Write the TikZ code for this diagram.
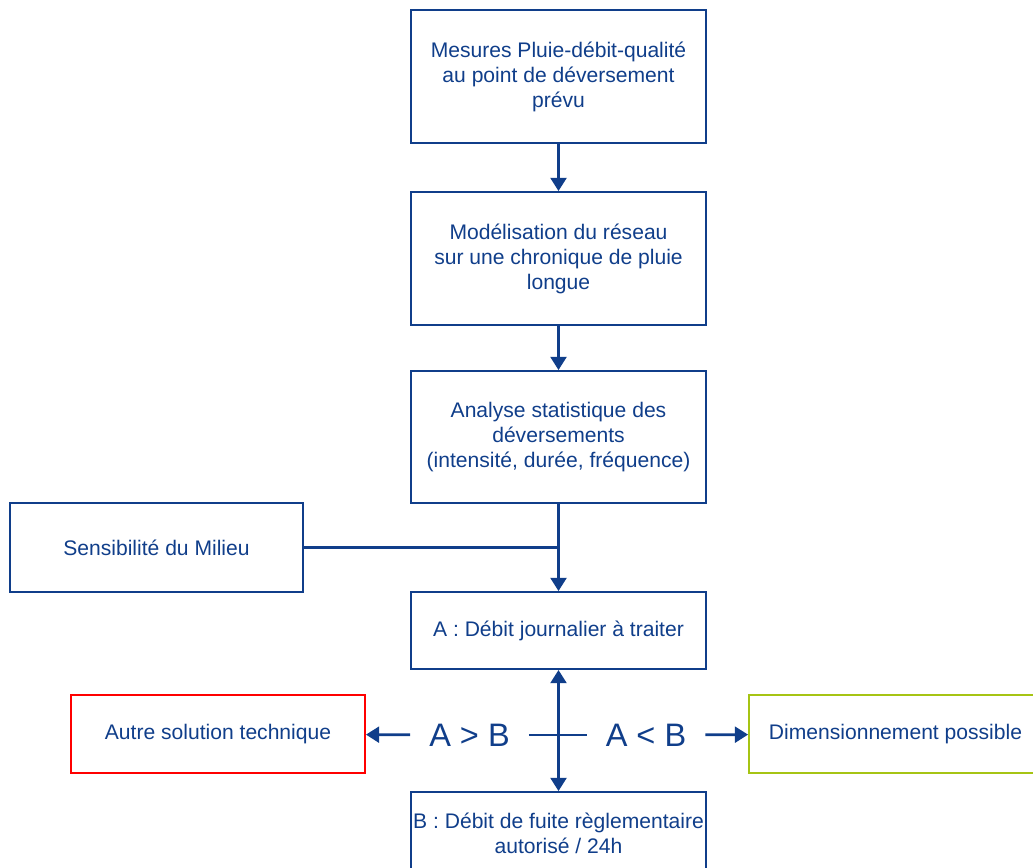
\documentclass[tikz,border=0pt]{standalone}
\usepackage{fontspec}
\setmainfont{Liberation Sans}
\usetikzlibrary{arrows.meta}
\definecolor{flowblue}{RGB}{16,62,138}
\definecolor{flowred}{RGB}{255,0,0}
\definecolor{flowgreen}{RGB}{166,196,20}
\tikzset{
  stepbox/.style={draw=flowblue, line width=1.1pt, minimum width=5.9cm,
    align=center, text=flowblue, font=\fontsize{12}{14.2}\selectfont},
  cmp/.style={text=flowblue, inner sep=0pt, minimum width=2.36cm,
    font=\fontsize{18.5}{22}\selectfont},
  link/.style={draw=flowblue, line width=1.6pt},
  flow/.style={link, -{Triangle[length=7.5pt,width=9pt]}},
  flowboth/.style={link, {Triangle[length=7.5pt,width=9pt]}-{Triangle[length=7.5pt,width=9pt]}}
}
\begin{document}
\begin{tikzpicture}[x=0.02cm, y=-0.02cm]
    \useasboundingbox (0,0) rectangle (1033,867);

    % main chain
    \node[stepbox, minimum height=2.66cm] (mesures) at (558.5,76.5)
        {Mesures Pluie-débit-qualité\\au point de déversement\\prévu};
    \node[stepbox, minimum height=2.66cm] (modele) at (558.5,258.5)
        {Modélisation du réseau\\sur une chronique de pluie\\longue};
    \node[stepbox, minimum height=2.64cm] (analyse) at (558.5,437)
        {Analyse statistique des\\déversements\\(intensité, durée, fréquence)};
    \node[stepbox, minimum width=5.86cm, minimum height=1.78cm] (milieu) at (156.5,547.5)
        {Sensibilité du Milieu};
    \node[stepbox, minimum height=1.54cm] (debitA) at (558.5,630.5)
        {A : Débit journalier à traiter};
    \node[stepbox, minimum height=1.64cm, inner xsep=0pt] (debitB) at (558.5,833)
        {B : Débit de fuite règlementaire\\autorisé / 24h};

    % outcomes
    \node[stepbox, draw=flowred, minimum width=5.88cm, minimum height=1.56cm] (autre) at (218,734)
        {Autre solution technique};
    \node[stepbox, draw=flowgreen, minimum width=5.86cm, minimum height=1.56cm] (dimens) at (895.5,734)
        {Dimensionnement possible};
    \node[cmp] (gtAB) at (469.5,735) {A > B};
    \node[cmp] (ltAB) at (646,735) {A < B};
    \coordinate (jonction) at (558.5,547.5);

    % connectors
    \draw[flow] (mesures) -- (modele);
    \draw[flow] (modele) -- (analyse);
    \draw[flow] (analyse) -- (debitA);
    \draw[link] (milieu.east) -- (jonction);
    \draw[flowboth] (debitA) -- (debitB);
    \draw[flow] (gtAB) -- (autre);
    \draw[link] (gtAB.east) -- (ltAB.west);
    \draw[flow] (ltAB) -- (dimens);
\end{tikzpicture}
\end{document}
